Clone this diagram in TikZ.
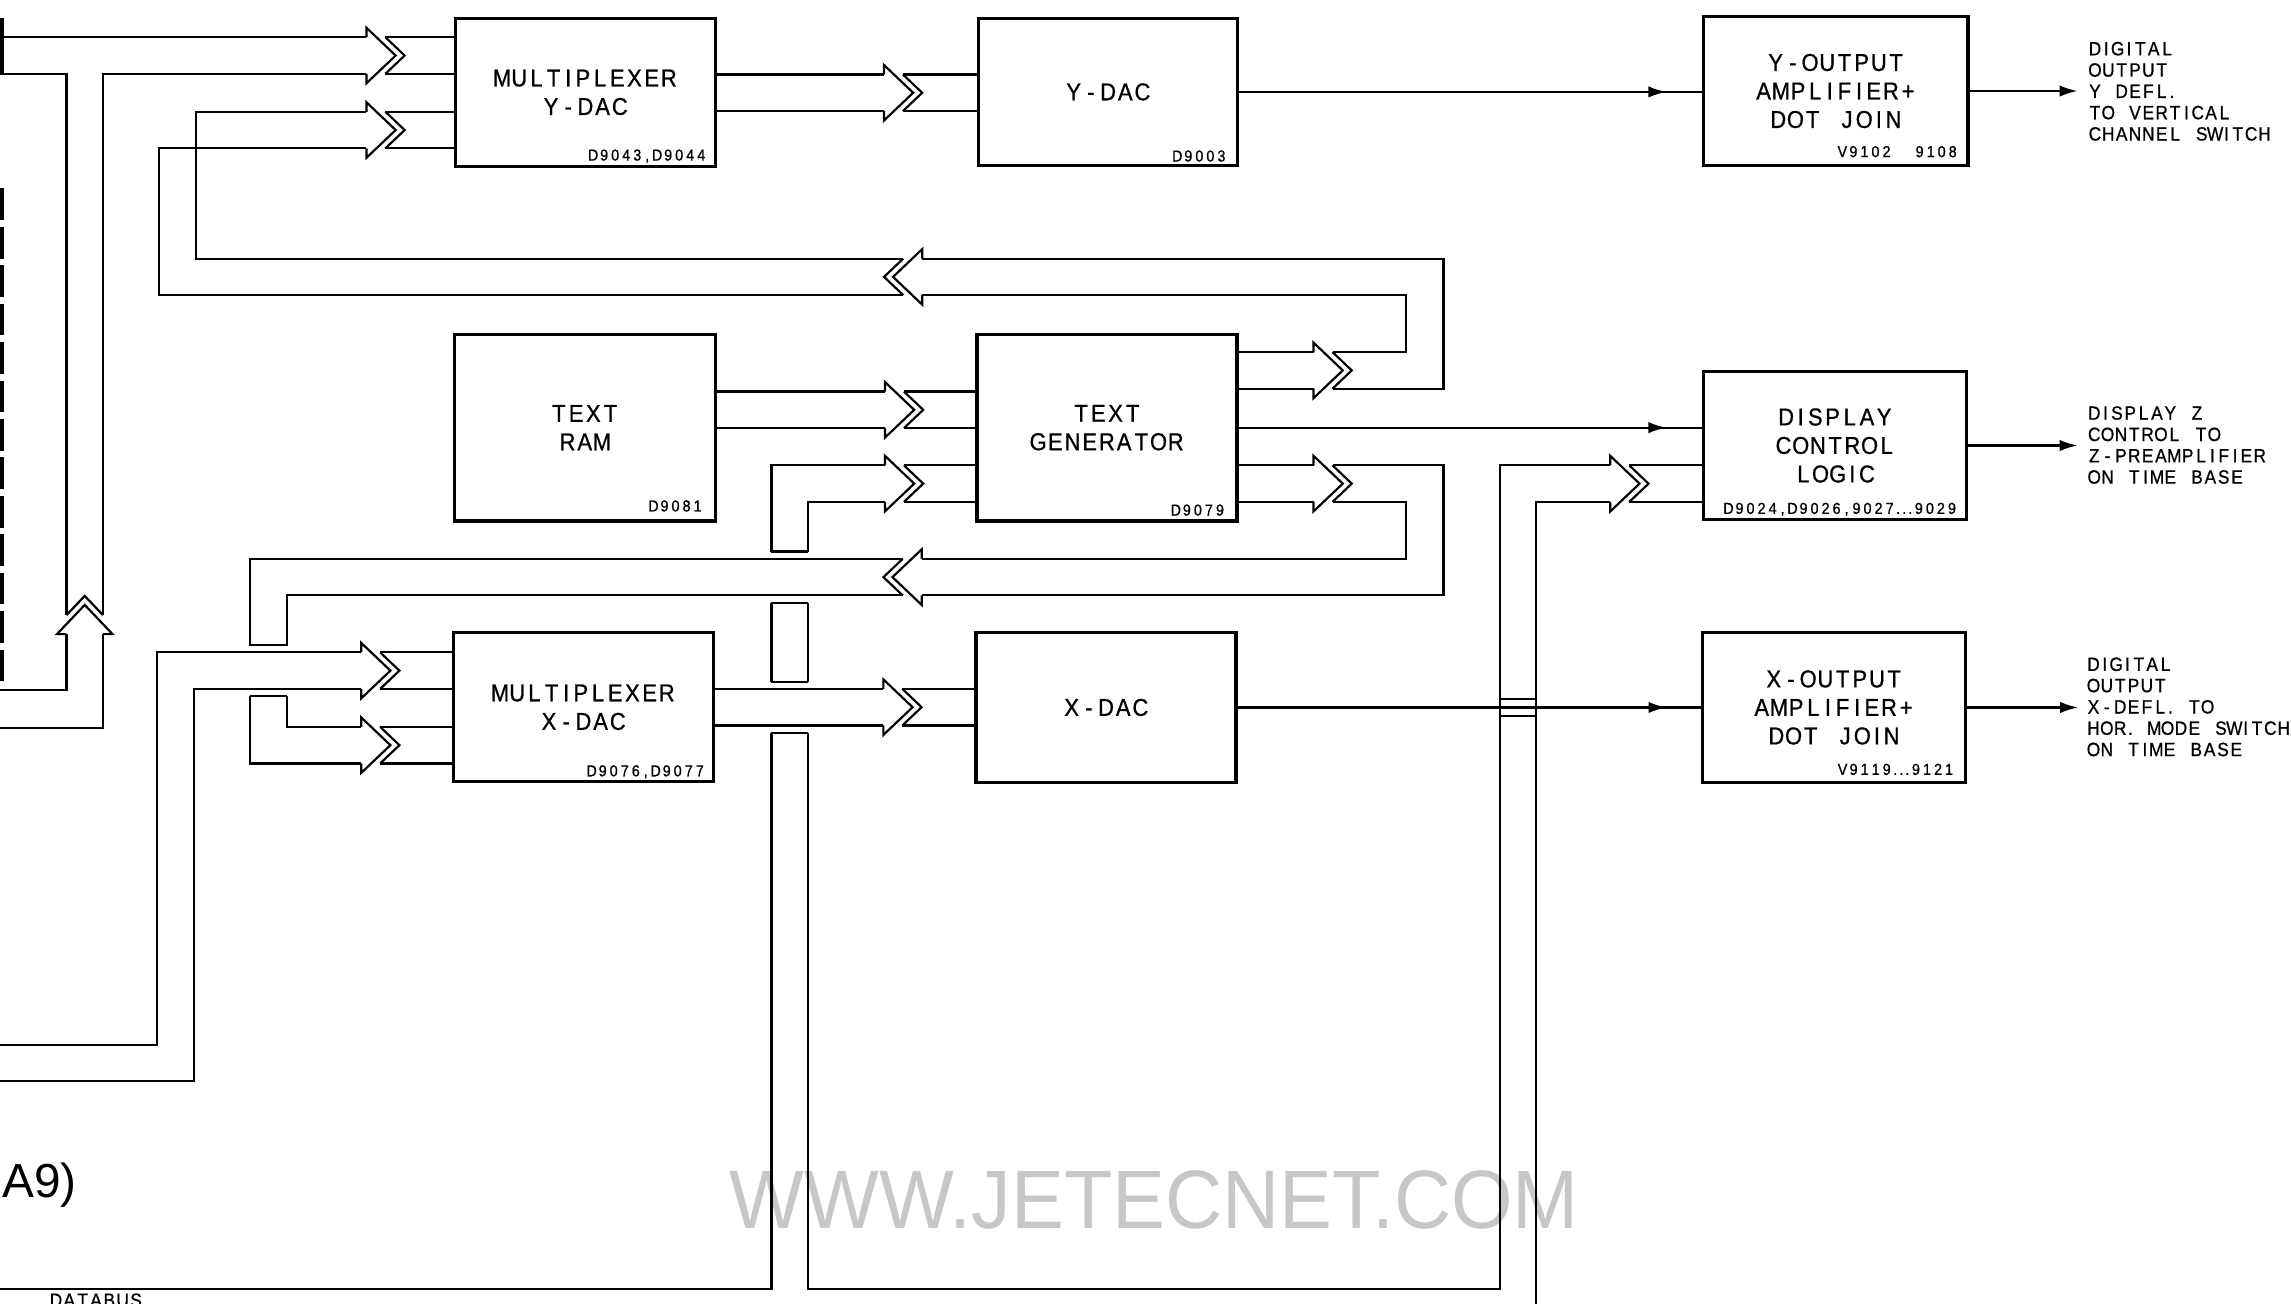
\documentclass[tikz,border=0pt]{standalone}
\usepackage{fontspec}
\setmainfont{Liberation Sans}
\newfontfamily\letfont[FakeStretch=0.9,FakeBold=0.8]{Liberation Sans}
\usetikzlibrary{arrows.meta,calc}
\newdimen\mw
\newcommand\mono[2]{\mw=#1\relax\monoloop#2\relax}
\def\monoloop#1{\ifx#1\relax\else\monochar#1\expandafter\monoloop\fi}
\def\monochar#1{\ifx#1.\makebox[0.55\mw][c]{.}\else\ifx#1,\makebox[0.8\mw][c]{,}\else\ifx#1I\makebox[0.7\mw][c]{I}\else\makebox[\mw][c]{#1}\fi\fi\fi}
\newcommand\boxtxt[1]{\mono{6.7pt}{#1}}
\newcommand\idtxt[1]{\mono{4.3pt}{#1}}
\newcommand\outtxt[1]{\mono{5.2pt}{#1}}
\tikzset{
  busarrow/.pic={
    \draw (0,-12.5) -- (0,-19) -- (20,0) -- (0,19) -- (0,12.5);
    \draw (13,-12.5) -- (26.16,0) -- (13,12.5);
  }
}
\begin{document}
\begin{tikzpicture}[x=0.02cm,y=-0.02cm,line width=0.85pt,
  blk/.style={draw,line width=1.25pt,inner sep=0pt,outer sep=0pt,align=center,
    font=\letfont\fontsize{9.5}{11.1}\selectfont},
  idl/.style={inner sep=0pt,anchor=east,font=\letfont\fontsize{6.2}{7}\selectfont},
  outl/.style={inner sep=0pt,anchor=west,align=left,font=\letfont\fontsize{7.5}{8.3}\selectfont},
  sarr/.style={-{Latex[length=7pt,width=4.4pt]}},
  edgeline/.style={line width=1.6pt}]
\fill[white] (0,0) rectangle (1568,892);
\useasboundingbox (0,0) rectangle (1568,892);
\clip (0,0) rectangle (1568,892);

% watermark
\node[text=black!22,inner sep=0pt,font=\fontsize{32.3}{34}\selectfont] (wm) at (790,821) {\scalebox{0.955}[1]{WWW.JETECNET.COM}};

% blocks
\node[blk,minimum width=3.55cm,minimum height=2.03cm] (muxy) at (400.7,63.25) {\boxtxt{MULTIPLEXER}\\\boxtxt{Y-DAC}};
\node[blk,minimum width=3.55cm,minimum height=2.02cm] (ydac) at (758.4,62.9) {\boxtxt{Y-DAC}};
\node[blk,minimum width=3.62cm,minimum height=2.03cm] (yout) at (1256.5,62.3) {\boxtxt{Y-OUTPUT}\\\boxtxt{AMPLIFIER+}\\\boxtxt{DOT~JOIN}};
\node[blk,minimum width=3.57cm,minimum height=2.556cm] (tram) at (400.2,292.7) {\boxtxt{TEXT}\\\boxtxt{RAM}};
\node[blk,minimum width=3.56cm,minimum height=2.556cm] (tgen) at (757.6,292.7) {\boxtxt{TEXT}\\\boxtxt{GENERATOR}};
\node[blk,minimum width=3.6cm,minimum height=2.02cm] (dcl) at (1256,304.9) {\boxtxt{DISPLAY}\\\boxtxt{CONTROL}\\\boxtxt{LOGIC}};
\node[blk,minimum width=3.564cm,minimum height=2.04cm] (muxx) at (399.3,484.1) {\boxtxt{MULTIPLEXER}\\\boxtxt{X-DAC}};
\node[blk,minimum width=3.56cm,minimum height=2.05cm] (xdac) at (757,484.2) {\boxtxt{X-DAC}};
\node[blk,minimum width=3.606cm,minimum height=2.054cm] (xout) at (1255.2,484.2) {\boxtxt{X-OUTPUT}\\\boxtxt{AMPLIFIER+}\\\boxtxt{DOT~JOIN}};

% part numbers
\node[idl] (idmuxy) at (484.5,106.8) {\idtxt{D9043,D9044}};
\node[idl] (idydac) at (840.5,106.8) {\idtxt{D9003}};
\node[idl] (idyout) at (1341,103.8) {\idtxt{V9102~~9108}};
\node[idl] (idtram) at (482,346.3) {\idtxt{D9081}};
\node[idl] (idtgen) at (839.5,349.1) {\idtxt{D9079}};
\node[idl] (iddcl) at (1340.5,348.6) {\idtxt{D9024,D9026,9027...9029}};
\node[idl] (idmuxx) at (483.5,528.2) {\idtxt{D9076,D9077}};
\node[idl] (idxout) at (1338.5,526.6) {\idtxt{V9119...9121}};

% output labels
\node[outl] (ylab) at (1428.5,62.5) {\outtxt{DIGITAL}\\\outtxt{OUTPUT}\\\outtxt{Y~DEFL.}\\\outtxt{TO~VERTICAL}\\\outtxt{CHANNEL~SWITCH}};
\node[outl] (zlab) at (1428,304.6) {\outtxt{DISPLAY~Z}\\\outtxt{CONTROL~TO}\\\outtxt{Z-PREAMPLIFIER}\\\outtxt{ON~TIME~BASE}};
\node[outl] (xlab) at (1427.5,483.8) {\outtxt{DIGITAL}\\\outtxt{OUTPUT}\\\outtxt{X-DEFL.~TO}\\\outtxt{HOR.~MODE~SWITCH}\\\outtxt{ON~TIME~BASE}};
\node[outl,anchor=north west] (dbus) at (33,884.5) {\outtxt{DATABUS}};
\node[anchor=west,inner sep=0pt,font=\fontsize{18.6}{20}\selectfont] (a9) at (1,811) {A9)};

% left edge
\draw[edgeline] (1.3,12.5) -- (1.3,50.5);
\draw[edgeline,dash pattern=on 0.434cm off 0.092cm] (1.3,129) -- (1.3,468);

% single-line connectors
\draw (ydac.east) -- (ydac.east -| yout.west);
\draw[sarr] (ydac.east) -- ($(ydac.east -| yout.west)+(-25.5,0)$);
\draw (tgen.east) -- (tgen.east -| dcl.west);
\draw[sarr] (tgen.east) -- ($(tgen.east -| dcl.west)+(-25.5,0)$);
\draw (xdac.east) -- (xdac.east -| xout.west);
\draw[sarr] (xdac.east) -- ($(xdac.east -| xout.west)+(-24.5,0)$);
\draw[sarr] (yout.east) -- ($(yout.east)+(75,0)$);
\draw[sarr] (dcl.east) -- ($(dcl.east)+(76,0)$);
\draw[sarr] (xout.east) -- ($(xout.east)+(77,0)$);

% bus A : into MUX Y-DAC (upper) with branch from below
\draw (0,25.5) -- (250.8,25.5);
\draw (263.8,25.5) -- (312,25.5);
\draw (0,50.5) -- (45.5,50.5) -- (45.5,421);
\draw (70.5,421) -- (70.5,50.5) -- (250.8,50.5);
\draw (263.8,50.5) -- (312,50.5);
\pic at (250.8,38) {busarrow};
\pic[rotate=90] at (58,434) {busarrow};
\draw (0,472.5) -- (45.5,472.5) -- (45.5,434);
\draw (0,498) -- (70.5,498) -- (70.5,434);

% bus B / D : upper feedback loop into MUX Y-DAC (lower)
\pic at (899,253.5) {busarrow};
\draw (846.7,241) -- (899,241);
\draw (846.7,266) -- (899,266);
\draw (912,241) -- (962.5,241) -- (962.5,202) -- (631.2,202);
\draw (912,266) -- (988,266) -- (988,177) -- (631.2,177);
\pic[rotate=180] at (631.2,189.5) {busarrow};
\draw (618.2,177) -- (134,177) -- (134,76.5) -- (250.8,76.5);
\draw (618.2,202) -- (109,202) -- (109,101.5) -- (250.8,101.5);
\pic at (250.8,89) {busarrow};
\draw (263.8,76.5) -- (312,76.5);
\draw (263.8,101.5) -- (312,101.5);

% bus C : MUX Y-DAC -> Y-DAC
\draw (489.4,51) -- (605,51);
\draw (489.4,76) -- (605,76);
\pic at (605,63.5) {busarrow};
\draw (618,51) -- (669.6,51);
\draw (618,76) -- (669.6,76);

% bus F : TEXT RAM -> TEXT GENERATOR
\draw (489.4,268) -- (605.7,268);
\draw (489.4,293) -- (605.7,293);
\pic at (605.7,280.5) {busarrow};
\draw (618.7,268) -- (668.6,268);
\draw (618.7,293) -- (668.6,293);

% bus G / M : databus -> TEXT GENERATOR (lower input)
\draw (528,377.5) -- (528,318.5) -- (605.7,318.5);
\draw (553,377.5) -- (553,343.5) -- (605.7,343.5);
\draw (528,377.5) -- (553,377.5);
\pic at (605.7,331) {busarrow};
\draw (618.7,318.5) -- (668.6,318.5);
\draw (618.7,343.5) -- (668.6,343.5);
\draw (528,412.5) -- (553,412.5);
\draw (528,412.5) -- (528,466.5);
\draw (553,412.5) -- (553,466.5);
\draw (528,466.5) -- (553,466.5);
\draw (528,501.5) -- (553,501.5);
\draw (0,882) -- (528,882) -- (528,501.5);
\draw (553,501.5) -- (553,882) -- (1026.5,882) -- (1026.5,318.5) -- (1102.1,318.5);
\draw (1051,900) -- (1051,343.5) -- (1102.1,343.5);
\draw (1026.5,478.5) -- (1051,478.5);
\draw (1026.5,490) -- (1051,490);
\pic at (1102.1,331) {busarrow};
\draw (1115.1,318.5) -- (1166,318.5);
\draw (1115.1,343.5) -- (1166,343.5);

% bus H / I : lower feedback loop into MUX X-DAC (lower)
\draw (846.7,318.5) -- (899,318.5);
\draw (846.7,343.5) -- (899,343.5);
\pic at (899,331) {busarrow};
\draw (912,318.5) -- (988,318.5) -- (988,407.5) -- (630.8,407.5);
\draw (912,343.5) -- (962.5,343.5) -- (962.5,382.5) -- (630.8,382.5);
\pic[rotate=180] at (630.8,395) {busarrow};
\draw (617.8,382.5) -- (171,382.5) -- (171,441.5) -- (196.5,441.5) -- (196.5,407.5) -- (617.8,407.5);
\draw (171,476.5) -- (196.5,476.5);
\draw (171,476.5) -- (171,522.5) -- (247.2,522.5);
\draw (196.5,476.5) -- (196.5,497.5) -- (247.2,497.5);
\pic at (247.2,510) {busarrow};
\draw (260.2,497.5) -- (310.2,497.5);
\draw (260.2,522.5) -- (310.2,522.5);

% bus J : into MUX X-DAC (upper)
\draw (0,715) -- (107.5,715) -- (107.5,446.5) -- (247.2,446.5);
\draw (0,740) -- (133,740) -- (133,471.5) -- (247.2,471.5);
\pic at (247.2,459) {busarrow};
\draw (260.2,446.5) -- (310.2,446.5);
\draw (260.2,471.5) -- (310.2,471.5);

% bus L : MUX X-DAC -> X-DAC
\draw (488.4,471.5) -- (604.6,471.5);
\draw (488.4,496.5) -- (604.6,496.5);
\pic at (604.6,484) {busarrow};
\draw (617.6,471.5) -- (667.9,471.5);
\draw (617.6,496.5) -- (667.9,496.5);
\end{tikzpicture}
\end{document}
